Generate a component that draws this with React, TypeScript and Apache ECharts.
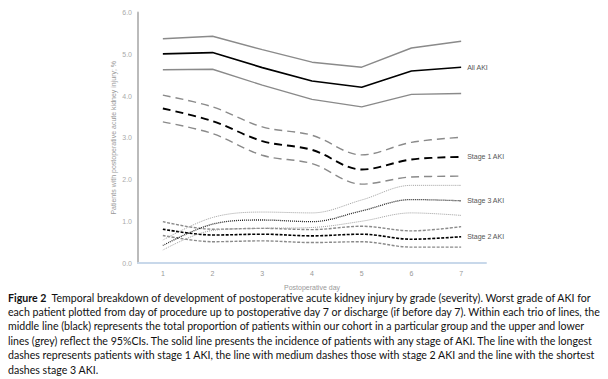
import React, { useEffect, useRef } from "react";
import * as echarts from "echarts";

const days = ["1", "2", "3", "4", "5", "6", "7"];
const yTicks = [0, 1, 2, 3, 4, 5, 6];

const allAkiUpper = [5.37, 5.43, 5.11, 4.81, 4.69, 5.15, 5.31];
const allAki = [5.01, 5.04, 4.68, 4.36, 4.21, 4.6, 4.69];
const allAkiLower = [4.63, 4.64, 4.26, 3.92, 3.74, 4.04, 4.06];

const stage1Upper = [4.02, 3.74, 3.26, 3.06, 2.59, 2.89, 3.01];
const stage1 = [3.7, 3.4, 2.92, 2.71, 2.24, 2.48, 2.54];
const stage1Lower = [3.38, 3.1, 2.58, 2.38, 1.89, 2.06, 2.08];

const stage2Upper = [0.99, 0.81, 0.83, 0.8, 0.88, 0.77, 0.87];
const stage2 = [0.81, 0.67, 0.69, 0.65, 0.69, 0.57, 0.63];
const stage2Lower = [0.66, 0.51, 0.53, 0.49, 0.51, 0.38, 0.38];

const stage3Upper = [0.55, 1.09, 1.22, 1.2, 1.51, 1.86, 1.86];
const stage3 = [0.42, 0.93, 1.03, 0.99, 1.25, 1.52, 1.49];
const stage3Lower = [0.31, 0.78, 0.83, 0.85, 1.0, 1.2, 1.14];

const captionLines = [
  "each patient plotted from day of procedure up to postoperative day 7 or discharge (if before day 7). Within each trio of lines, the",
  "middle line (black) represents the total proportion of patients within our cohort in a particular group and the upper and lower",
  "lines (grey) reflect the 95%CIs. The solid line presents the incidence of patients with any stage of AKI. The line with the longest",
  "dashes represents patients with stage 1 AKI, the line with medium dashes those with stage 2 AKI and the line with the shortest",
  "dashes stage 3 AKI.",
];
const captionTitle = "Figure 2";
const captionFirst = "Temporal breakdown of development of postoperative acute kidney injury by grade (severity). Worst grade of AKI for";

const GREY = "#8a8a8a";
const BLACK = "#000000";

function line(name: string, data: number[], color: string, width: number, dash: any, smooth: number, endLabel?: string) {
  return {
    type: "line",
    name,
    data,
    symbol: "none",
    smooth,
    lineStyle: { color, width, type: dash },
    emphasis: { disabled: true },
    endLabel: endLabel
      ? {
          show: true,
          formatter: endLabel,
          color: "#555",
          fontSize: 7,
          fontFamily: "Liberation Sans, Arial, sans-serif",
          distance: 6,
        }
      : { show: false },
  };
}

export default function App() {
  const ref = useRef<HTMLDivElement>(null);
  useEffect(() => {
    document.body.style.margin = "0";
    const chart = echarts.init(ref.current!, null, { renderer: "svg" });
    const capFont = "Lato, 'Open Sans', sans-serif";
    const capSize = 10.6;
    const lineH = 14.4;
    const capTop = 298;
    const graphics: any[] = [
      {
        type: "text",
        left: 8,
        top: capTop - 6,
        style: {
          text: "{b|" + captionTitle + "}  " + captionFirst,
          rich: { b: { fontWeight: "bold", fontSize: capSize, fontFamily: capFont, fill: "#111" } },
          fontSize: capSize,
          fontFamily: capFont,
          fill: "#111",
        },
      },
    ];
    captionLines.forEach((t, i) => {
      graphics.push({
        type: "text",
        left: 8,
        top: capTop - 6 + lineH * (i + 1),
        style: { text: t, fontSize: capSize, fontFamily: capFont, fill: "#111" },
      });
    });
    chart.setOption({
      animation: false,
      grid: { left: 138, right: 122, top: 12.5, bottom: 116 },
      xAxis: {
        type: "category",
        data: days,
        boundaryGap: true,
        name: "Postoperative day",
        nameLocation: "middle",
        nameGap: 21,
        nameMoveOverlap: false,
        nameTextStyle: { color: "#999", fontSize: 7, fontFamily: "Liberation Sans, Arial, sans-serif" },
        axisLine: { show: true, lineStyle: { color: "#c8d8ea", width: 2 } },
        axisTick: { show: false },
        axisLabel: { color: "#999", fontSize: 7, margin: 7, fontFamily: "Liberation Sans, Arial, sans-serif" },
        splitLine: { show: false },
      },
      yAxis: {
        type: "value",
        min: yTicks[0],
        max: yTicks[yTicks.length - 1],
        interval: 1,
        name: "Patients with postoperative acute kidney injury; %",
        nameLocation: "middle",
        nameGap: 21,
        nameMoveOverlap: false,
        nameTextStyle: { color: "#999", fontSize: 7, fontFamily: "Liberation Sans, Arial, sans-serif" },
        axisLine: { show: true, lineStyle: { color: "#bbbbbb", width: 2 } },
        axisTick: { show: false },
        axisLabel: {
          color: "#aaa",
          fontSize: 7,
          margin: 6,
          fontFamily: "Liberation Sans, Arial, sans-serif",
          formatter: (v: number) => v.toFixed(1),
        },
        splitLine: { show: false },
      },
      series: [
        line("All AKI upper", allAkiUpper, GREY, 1.4, "solid", 0),
        line("All AKI lower", allAkiLower, GREY, 1.4, "solid", 0),
        line("All AKI", allAki, BLACK, 1.6, "solid", 0, "All AKI"),
        line("Stage 1 upper", stage1Upper, GREY, 1.4, [8, 5], 0.35),
        line("Stage 1 lower", stage1Lower, GREY, 1.4, [8, 5], 0.35),
        line("Stage 1 AKI", stage1, BLACK, 1.9, [8, 5], 0.35, "Stage 1 AKI"),
        line("Stage 2 upper", stage2Upper, GREY, 1.4, [3, 1.5], 0.35),
        line("Stage 2 lower", stage2Lower, GREY, 1.4, [3, 1.5], 0.35),
        line("Stage 2 AKI", stage2, BLACK, 1.6, [3, 1.5], 0.35, "Stage 2 AKI"),
        line("Stage 3 upper", stage3Upper, "#a0a0a0", 1, [1, 1], 0.35),
        line("Stage 3 lower", stage3Lower, "#a0a0a0", 1, [1, 1], 0.35),
        line("Stage 3 AKI", stage3, "#222", 1.3, [1, 1], 0.35, "Stage 3 AKI"),
      ],
      graphic: graphics,
    });
    return () => chart.dispose();
  }, []);
  return <div ref={ref} style={{ width: 608, height: 379 }} />;
}
